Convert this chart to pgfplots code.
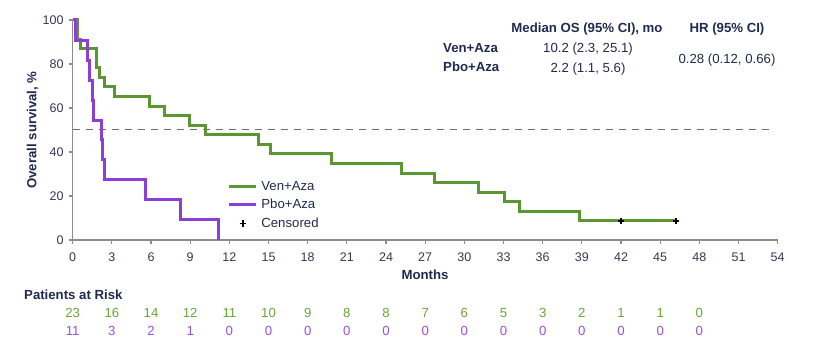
\documentclass[border=0pt]{standalone}
\usepackage{fontspec}
\setmainfont{Liberation Sans}
\usepackage{pgfplots}
\pgfplotsset{compat=1.18}
\definecolor{vengreen}{RGB}{91,150,50}
\definecolor{pbopurple}{RGB}{139,63,214}
\definecolor{navy}{RGB}{32,42,78}
\definecolor{ticktext}{RGB}{50,56,84}
\definecolor{axgray}{RGB}{140,140,140}
\definecolor{dashgray}{RGB}{110,110,110}
\definecolor{riskgreen}{RGB}{105,165,55}
\definecolor{riskpurple}{RGB}{155,80,220}
\newcommand{\bodyfont}{\fontsize{13.2}{15}\selectfont}
\begin{document}
\begin{tikzpicture}
\path[use as bounding box] (-72.7pt,-118pt) rectangle (758.3pt,240pt);
\begin{axis}[
  at={(0,0)}, anchor=south west,
  scale only axis, width=705pt, height=220pt,
  xmin=0, xmax=54, ymin=0, ymax=100,
  axis x line*=bottom, axis y line*=left,
  axis line style={axgray, line width=1.2pt, -},
  xtick={0,3,...,54}, ytick={0,20,...,100},
  tick align=outside, major tick length=4pt,
  tick style={axgray, line width=1.2pt},
  /pgf/number format/assume math mode=true,
  xticklabel style={font=\fontsize{12.5}{14}\selectfont, text=ticktext, inner sep=0pt, anchor=north, yshift=-9pt},
  yticklabel style={font=\fontsize{12.5}{14}\selectfont, text=ticktext, inner sep=0pt, anchor=east, xshift=-5pt},
  clip=false,
  legend style={draw=none, fill=none, at={(axis cs:11.87,27.6)}, anchor=north west,
    font=\bodyfont, text=navy, row sep=4.6pt, inner sep=0pt,
    nodes={inner xsep=3.5pt, inner ysep=1.5pt}},
  legend cell align=left,
  legend image code/.code={\draw[mark repeat=2,mark phase=2,#1] plot coordinates {(0pt,0pt) (13.5pt,0pt) (27pt,0pt)};},
]
\addplot[dashgray, line width=1pt, dash pattern=on 7pt off 6pt, forget plot] coordinates {(0,50) (53.6,50)};
\addplot[vengreen, line width=3pt, line join=miter, line cap=butt] coordinates {
(0,100) (0.4,100) (0.4,91.3) (0.58,91.3) (0.58,87.0) (1.84,87.0) (1.84,78.3)
(2.04,78.3) (2.04,73.9) (2.4,73.9) (2.4,69.6) (3.19,69.6) (3.19,65.2)
(5.9,65.2) (5.9,60.9) (7.0,60.9) (7.0,56.5) (8.98,56.5) (8.98,52.2)
(10.18,52.2) (10.18,47.8) (14.2,47.8) (14.2,43.5) (15.16,43.5) (15.16,39.1)
(19.83,39.1) (19.83,34.8) (25.2,34.8) (25.2,30.4) (27.7,30.4) (27.7,26.1)
(31.1,26.1) (31.1,21.7) (33.1,21.7) (33.1,17.4) (34.2,17.4) (34.2,13.0)
(38.84,13.0) (38.84,8.7) (46.25,8.7)};
\addlegendentry{Ven+Aza}
\addplot[pbopurple, line width=3pt, line join=miter, line cap=butt] coordinates {
(0,100) (0.25,100) (0.25,90.9) (1.15,90.9) (1.15,81.8) (1.27,81.8) (1.27,72.7)
(1.48,72.7) (1.48,63.6) (1.58,63.6) (1.58,54.5) (2.22,54.5) (2.22,45.5)
(2.3,45.5) (2.3,36.4) (2.45,36.4) (2.45,27.3) (5.61,27.3) (5.61,18.2)
(8.24,18.2) (8.24,9.1) (11.13,9.1) (11.13,0)};
\addlegendentry{Pbo+Aza}
\addplot[only marks, mark=+, mark size=3.3pt, black, line width=1.3pt] coordinates {(42,8.7) (46.2,8.7)};
\addlegendentry{Censored}
\end{axis}
% axis titles
\node[rotate=90, anchor=base, font=\bfseries\bodyfont, text=navy] at (-36.2pt,110pt) {Overall survival, \%};
\node[anchor=base, font=\bfseries\bodyfont, text=navy] at (352.3pt,-40pt) {Months};
% summary table
\node[anchor=base, font=\bfseries\bodyfont, text=navy] at (514.3pt,207pt) {Median OS (95\% CI), mo};
\node[anchor=base, font=\bfseries\bodyfont, text=navy] at (654.3pt,207pt) {HR (95\% CI)};
\node[anchor=base west, inner sep=0pt, font=\bfseries\bodyfont, text=navy] at (370.3pt,187.5pt) {Ven+Aza};
\node[anchor=base west, inner sep=0pt, font=\bfseries\bodyfont, text=navy] at (370.3pt,168pt) {Pbo+Aza};
\node[anchor=base, font=\bodyfont, text=navy] at (515.3pt,187.2pt) {10.2 (2.3, 25.1)};
\node[anchor=base, font=\bodyfont, text=navy] at (515.3pt,167.5pt) {2.2 (1.1, 5.6)};
\node[anchor=base, font=\bodyfont, text=navy] at (654.3pt,176.5pt) {0.28 (0.12, 0.66)};
% patients at risk
\node[anchor=base west, inner sep=0pt, font=\bfseries\bodyfont, text=navy] at (-48.7pt,-60pt) {Patients at Risk};
\foreach \m/\g/\p in {0/23/11, 3/16/3, 6/14/2, 9/12/1, 12/11/0, 15/10/0, 18/9/0, 21/8/0, 24/8/0, 27/7/0, 30/6/0, 33/5/0, 36/3/0, 39/2/0, 42/1/0, 45/1/0, 48/0/0} {
  \node[anchor=base, inner sep=0pt, font=\bodyfont, text=riskgreen] at ({\m*13.0556pt},-77.3pt) {\g};
  \node[anchor=base, inner sep=0pt, font=\bodyfont, text=riskpurple] at ({\m*13.0556pt},-95.7pt) {\p};
}
\end{tikzpicture}
\end{document}
